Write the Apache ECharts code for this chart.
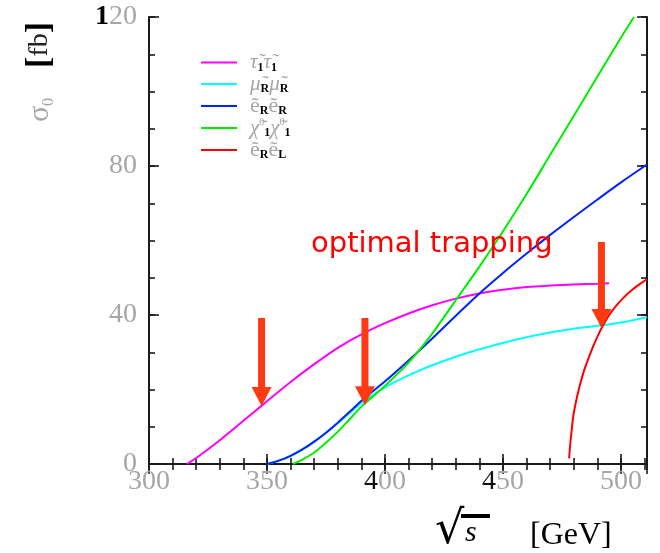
<!DOCTYPE html>
<html>
<head>
<meta charset="utf-8">
<script src="https://cdn.jsdelivr.net/npm/echarts@6/dist/echarts.min.js"></script>
<style>
  html, body { margin: 0; padding: 0; background: #fff; }
  #chart { width: 660px; height: 553px; }
</style>
</head>
<body>
<div id="chart"></div>
<script>
// Pair-production cross sections sigma_0 [fb] against sqrt(s) [GeV]
const stauX   = [316, 320, 330, 340, 348, 360, 370, 380, 390, 400, 410, 420, 430, 440, 450, 460, 470, 480, 490, 495];
const stauY   = [0, 1.6, 6.4, 11.6, 15.8, 22.0, 26.8, 31.2, 34.8, 37.8, 40.4, 42.6, 44.4, 45.8, 46.8, 47.5, 47.9, 48.2, 48.4, 48.5];

const smuX    = [350, 355, 360, 365, 370, 375, 380, 385, 390, 400, 410, 420, 430, 440, 450, 460, 470, 480, 490, 500, 511];
const smuY    = [0, 0.9, 2.2, 3.9, 6.0, 8.4, 11.0, 13.7, 16.4, 20.6, 23.8, 26.5, 28.8, 30.8, 32.5, 34.0, 35.3, 36.3, 37.1, 38.0, 39.4];

const selRRX  = [350, 355, 360, 365, 370, 375, 380, 385, 390, 400, 410, 420, 430, 440, 450, 460, 470, 480, 490, 500, 511];
const selRRY  = [0, 0.9, 2.2, 3.9, 6.0, 8.4, 11.1, 14.0, 17.0, 22.2, 27.8, 33.7, 39.8, 45.8, 51.3, 56.5, 61.5, 66.3, 71.0, 75.6, 80.4];

const chiX    = [361, 365, 370, 375, 380, 385, 390, 400, 410, 420, 430, 440, 450, 460, 470, 480, 490, 500, 505.5];
const chiY    = [0, 1.2, 3.1, 5.7, 8.7, 12.0, 15.4, 21.0, 27.2, 35.0, 44.0, 53.0, 62.5, 72.5, 83.0, 93.5, 104.0, 114.5, 120];

const selRLX  = [478, 478.5, 479, 479.7, 481, 482.5, 484, 486, 488, 490, 492, 495, 498, 501, 505, 509.3, 511];
const selRLY  = [1.5, 5.5, 8.5, 12.6, 17.0, 21.0, 24.4, 28.0, 31.3, 34.2, 36.8, 40.0, 42.5, 44.6, 46.9, 48.9, 49.6];

// arrows: [sqrt(s), top of shaft, tip]
const arrowX   = [347.7, 391.5, 491.7];
const arrowTop = [39.2, 39.2, 59.6];
const arrowTip = [15.6, 15.8, 36.5];

const xTickLabels = [300, 350, 400, 450, 500];
const yTickLabels = [0, 40, 80, 120];

const seriesNames  = ['stau', 'smuon', 'selRR', 'chi', 'selRL'];
const seriesColors = ['#ff00ff', '#00ffff', '#0022ff', '#00ee00', '#ff0000'];
const legendText = {
  stau:  '{m|τ̃}{s|1}{m|τ̃}{s|1}',
  smuon: '{m|μ̃}{s|R}{m|μ̃}{s|R}',
  selRR: '{e|ẽ}{s|R}{e|ẽ}{s|R}',
  chi:   '{m|χ̃}{u|0}{s|1}{m|χ̃}{u|0}{s|1}',
  selRL: '{e|ẽ}{s|R}{e|ẽ}{s|L}'
};

const zip = (xs, ys) => xs.map((x, i) => [x, ys[i]]);
const curves = [zip(stauX, stauY), zip(smuX, smuY), zip(selRRX, selRRY), zip(chiX, chiY), zip(selRLX, selRLY)];

const SERIF = '"Liberation Serif", "DejaVu Serif", serif';
const GRAY = '#a6a6a6';
const FRAME = '#1a1a1a';
const X_MIN = 300, X_MAX = 511, Y_MIN = 0, Y_MAX = 120;

function xAxisDef(position, interval, tickLen, withLine, withLabel) {
  return {
    type: 'value', position, min: X_MIN, max: X_MAX, interval,
    axisLine: { show: withLine, lineStyle: { color: FRAME, width: 2 } },
    axisTick: { show: true, inside: true, length: tickLen, lineStyle: { color: FRAME, width: 1.6 } },
    splitLine: { show: false },
    axisLabel: withLabel ? {
      show: true, margin: 4, color: GRAY, fontFamily: SERIF, fontSize: 28,
      formatter: v => {
        if (!xTickLabels.includes(v)) return '';
        const s = String(v);
        return s[0] === '4' ? '{k|4}{g|' + s.slice(1) + '}' : '{g|' + s + '}';
      },
      rich: {
        k: { color: '#111', fontFamily: SERIF, fontSize: 28 },
        g: { color: GRAY, fontFamily: SERIF, fontSize: 28 }
      }
    } : { show: false }
  };
}

function yAxisDef(position, interval, tickLen, withLine, withLabel) {
  return {
    type: 'value', position, min: Y_MIN, max: Y_MAX, interval,
    axisLine: { show: withLine, lineStyle: { color: FRAME, width: 2 } },
    axisTick: { show: true, inside: true, length: tickLen, lineStyle: { color: FRAME, width: 1.6 } },
    splitLine: { show: false },
    axisLabel: withLabel ? {
      show: true, margin: 12, color: GRAY, fontFamily: SERIF, fontSize: 28,
      formatter: v => {
        if (!yTickLabels.includes(v)) return '';
        const s = String(v);
        return s === '120' ? '{k|1}{g|20}' : '{g|' + s + '}';
      },
      rich: {
        k: { color: '#000', fontFamily: SERIF, fontSize: 28, fontWeight: 'bold' },
        g: { color: GRAY, fontFamily: SERIF, fontSize: 28 }
      }
    } : { show: false }
  };
}

const chart = echarts.init(document.getElementById('chart'), null, { renderer: 'canvas' });

const lineSeries = curves.map((pts, i) => ({
  name: seriesNames[i],
  type: 'line',
  data: pts,
  xAxisIndex: 0, yAxisIndex: 0,
  showSymbol: false,
  smooth: 0.3,
  clip: true,
  lineStyle: { color: seriesColors[i], width: 2 },
  itemStyle: { color: seriesColors[i] },
  z: 3
}));

const ARROW_COLOR = '#ff3a12';
const arrowSeries = {
  name: 'arrows',
  type: 'custom',
  xAxisIndex: 0, yAxisIndex: 0,
  data: arrowX.map((x, i) => [x, arrowTop[i], arrowTip[i]]),
  encode: { x: 0, y: [1, 2] },
  clip: false,
  z: 10,
  renderItem: (params, api) => {
    const x = api.value(0);
    const top = api.coord([x, api.value(1)]);
    const tip = api.coord([x, api.value(2)]);
    const headLen = 19, headHalf = 10, shaftHalf = 3.5;
    return {
      type: 'group',
      children: [
        { type: 'rect',
          shape: { x: top[0] - shaftHalf, y: top[1], width: shaftHalf * 2, height: tip[1] - headLen - top[1] + 1 },
          style: { fill: ARROW_COLOR } },
        { type: 'polygon',
          shape: { points: [[tip[0] - headHalf, tip[1] - headLen], [tip[0] + headHalf, tip[1] - headLen], [tip[0], tip[1]]] },
          style: { fill: ARROW_COLOR } }
      ]
    };
  }
};

chart.setOption({
  animation: false,
  backgroundColor: '#ffffff',
  grid: { left: 149, right: 13, top: 17, bottom: 89, containLabel: false },
  xAxis: [
    xAxisDef('bottom', 10, 6, true, true),
    xAxisDef('bottom', 50, 10, false, false),
    xAxisDef('top', 10, 6, true, false),
    xAxisDef('top', 50, 10, false, false)
  ],
  yAxis: [
    yAxisDef('left', 10, 6, true, true),
    yAxisDef('left', 40, 10, false, false),
    yAxisDef('right', 10, 6, true, false),
    yAxisDef('right', 40, 10, false, false)
  ],
  legend: {
    data: seriesNames,
    orient: 'vertical',
    left: 196, top: 47,
    icon: 'rect',
    itemWidth: 36, itemHeight: 2,
    itemGap: 0,
    selectedMode: false,
    formatter: name => legendText[name],
    textStyle: {
      padding: [0, 0, 0, 8],
      rich: {
        m: { color: GRAY, fontFamily: SERIF, fontSize: 21, fontStyle: 'italic', lineHeight: 22 },
        e: { color: GRAY, fontFamily: SERIF, fontSize: 22, lineHeight: 22 },
        s: { color: '#000', fontFamily: SERIF, fontSize: 12, fontWeight: 'bold', lineHeight: 22, verticalAlign: 'bottom' },
        u: { color: GRAY, fontFamily: SERIF, fontSize: 10, lineHeight: 22, verticalAlign: 'top' }
      }
    }
  },
  series: lineSeries.concat([arrowSeries]),
  graphic: [
    { type: 'text', x: 311, y: 244, z: 20,
      style: { text: 'optimal trapping', fill: '#ff0000', font: '29px "DejaVu Sans", sans-serif', verticalAlign: 'middle' } },
    // sigma_0 [fb], rotated along the left side
    { type: 'text', x: 40, y: 72, rotation: Math.PI / 2, z: 20,
      style: {
        text: '{g|σ}{z|0}{g|    }{b|[}{f|fb}{b|]}',
        align: 'center', verticalAlign: 'middle',
        rich: {
          g: { fill: GRAY, font: '30px ' + SERIF },
          z: { fill: GRAY, font: '16px ' + SERIF, verticalAlign: 'bottom' },
          b: { fill: '#000', font: 'bold 34px ' + SERIF },
          f: { fill: '#222', font: '28px ' + SERIF }
        }
      } },
    // sqrt(s) [GeV] below the axis
    { type: 'text', x: 435, y: 554, z: 20,
      style: { text: '√', fill: '#000', font: '46px "DejaVu Serif", serif', verticalAlign: 'bottom' } },
    { type: 'rect', shape: { x: 461, y: 514, width: 29, height: 4 }, style: { fill: '#000' }, z: 20 },
    { type: 'text', x: 465, y: 548, z: 20,
      style: { text: 's', fill: '#000', font: 'italic 30px ' + SERIF, verticalAlign: 'bottom' } },
    { type: 'text', x: 530, y: 536, z: 20,
      style: { text: '[GeV]', fill: '#000', font: '32px ' + SERIF, verticalAlign: 'middle' } }
  ]
});
</script>
</body>
</html>
